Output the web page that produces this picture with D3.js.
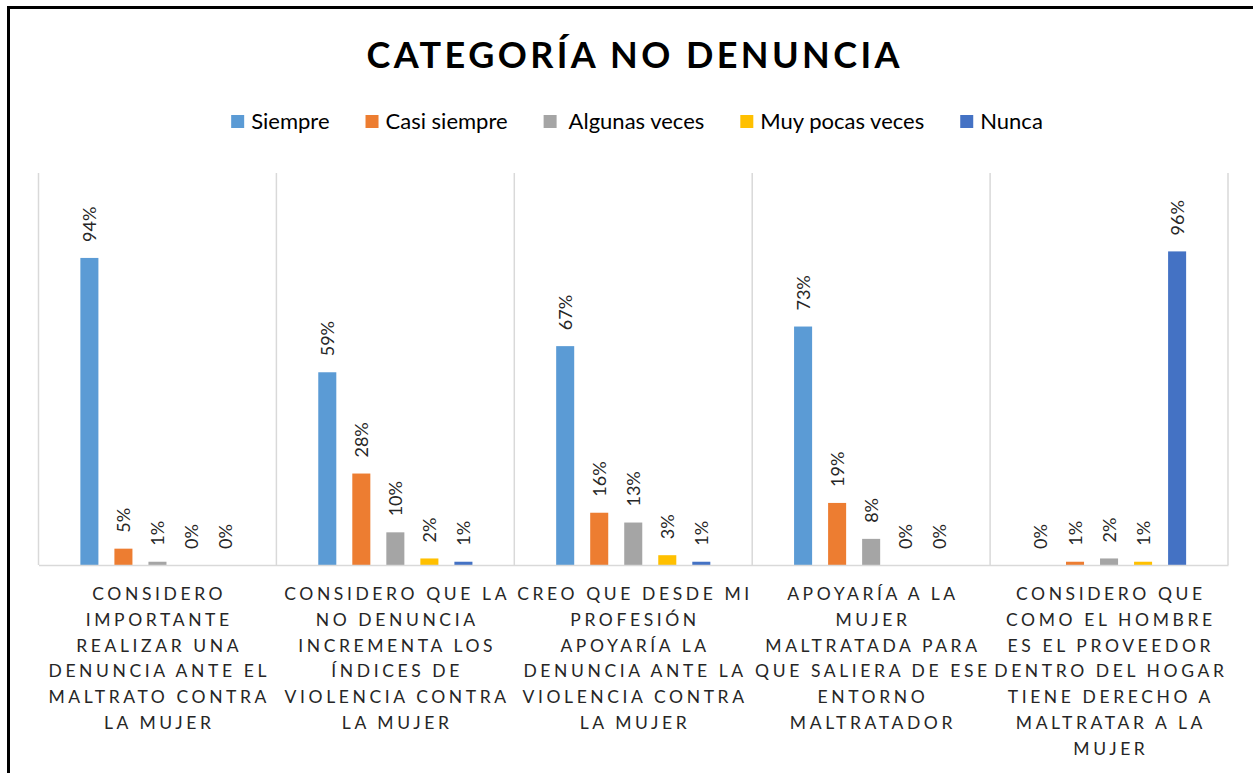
<!DOCTYPE html>
<html>
<head>
<meta charset="utf-8">
<script src="https://cdn.jsdelivr.net/npm/d3@7"></script>
<style>
  body { margin: 0; background: #fff; }
  svg { display: block; font-family: Lato, "Open Sans", sans-serif; }
</style>
</head>
<body>
<div class="canvas"></div>
<script>
// categorías (etiquetas del eje, ya partidas en líneas)
const categories = [
    ['CONSIDERO', 'IMPORTANTE', 'REALIZAR UNA', 'DENUNCIA ANTE EL', 'MALTRATO CONTRA', 'LA MUJER'],
    ['CONSIDERO QUE LA', 'NO DENUNCIA', 'INCREMENTA LOS', 'ÍNDICES DE', 'VIOLENCIA CONTRA', 'LA MUJER'],
    ['CREO QUE DESDE MI', 'PROFESIÓN', 'APOYARÍA LA', 'DENUNCIA ANTE LA', 'VIOLENCIA CONTRA', 'LA MUJER'],
    ['APOYARÍA A LA', 'MUJER', 'MALTRATADA PARA', 'QUE SALIERA DE ESE', 'ENTORNO', 'MALTRATADOR'],
    ['CONSIDERO QUE', 'COMO EL HOMBRE', 'ES EL PROVEEDOR', 'DENTRO DEL HOGAR', 'TIENE DERECHO A', 'MALTRATAR A LA', 'MUJER']
];

const seriesNames = ['Siempre', 'Casi siempre', 'Algunas veces', 'Muy pocas veces', 'Nunca'];

// valores en %
const siempre = [94, 59, 67, 73, 0];
const casiSiempre = [5, 28, 16, 19, 1];
const algunasVeces = [1, 10, 13, 8, 2];
const muyPocasVeces = [0, 2, 3, 0, 1];
const nunca = [0, 1, 1, 0, 96];

const colors = ['#5B9BD5', '#ED7D31', '#A5A5A5', '#FFC000', '#4472C4'];

const seriesValues = [siempre, casiSiempre, algunasVeces, muyPocasVeces, nunca];
const catIds = categories.map((c, i) => i);

const data = catIds.map(i => ({
    cat: i,
    values: seriesNames.map((s, j) => ({ key: s, value: seriesValues[j][i] / 100, color: colors[j] }))
}));

const width = 1253;
const height = 773;

const svg = d3.select('.canvas')
    .append('svg')
    .attr('width', width)
    .attr('height', height);

// marco del gráfico
svg.append('rect')
    .attr('x', 8.5)
    .attr('y', 7.5)
    .attr('width', 1300)
    .attr('height', 800)
    .attr('fill', 'none')
    .attr('stroke', '#000')
    .attr('stroke-width', 3);

const margin = { top: 173, right: 25, bottom: 208, left: 38.5 };
const graphWidth = width - margin.left - margin.right;
const graphHeight = height - margin.top - margin.bottom;

const graph = svg.append('g')
    .attr('transform', `translate(${margin.left}, ${margin.top})`);

const y = d3.scaleLinear()
    .domain([0, 1.2])
    .range([graphHeight, 0]);

const x0 = d3.scaleBand()
    .domain(catIds)
    .range([0, graphWidth])
    .padding(0);

const bw = x0.bandwidth();
const x1 = d3.scaleBand()
    .domain(seriesNames)
    .range([bw * 0.176, bw * 0.824])
    .paddingInner(0.47);

// líneas de división verticales
const bounds = catIds.map(i => x0(i)).concat([x0(catIds[catIds.length - 1]) + bw]);
graph.selectAll('line.grid')
    .data(bounds)
    .enter()
    .append('line')
    .attr('class', 'grid')
    .attr('x1', d => d)
    .attr('x2', d => d)
    .attr('y1', 0)
    .attr('y2', graphHeight)
    .attr('stroke', '#d9d9d9')
    .attr('stroke-width', 1.5);

// barras
const groups = graph.selectAll('g.cat')
    .data(data)
    .enter()
    .append('g')
    .attr('class', 'cat')
    .attr('transform', d => `translate(${x0(d.cat)}, 0)`);

groups.selectAll('rect')
    .data(d => d.values)
    .enter()
    .append('rect')
    .attr('x', d => x1(d.key))
    .attr('width', x1.bandwidth())
    .attr('y', d => y(d.value))
    .attr('height', d => graphHeight - y(d.value))
    .attr('fill', d => d.color);

// etiquetas de datos (rotadas)
groups.selectAll('text.val')
    .data(d => d.values)
    .enter()
    .append('text')
    .attr('class', 'val')
    .attr('transform', d => `translate(${x1(d.key) + x1.bandwidth() / 2}, ${y(d.value) - 16}) rotate(-90)`)
    .attr('dy', '0.36em')
    .attr('text-anchor', 'start')
    .attr('font-size', '18px')
    .attr('fill', '#262626')
    .text(d => Math.round(d.value * 100) + '%');

// eje x
const xAxisGroup = graph.append('g')
    .attr('transform', `translate(0, ${graphHeight})`);
const xAxis = d3.axisBottom(x0)
    .tickSize(0)
    .tickSizeOuter(0)
    .tickFormat('');
xAxisGroup.call(xAxis);
xAxisGroup.select('.domain')
    .attr('stroke', '#d9d9d9')
    .attr('stroke-width', 1.5);

const ls = 3.6;
const labels = graph.selectAll('text.cat')
    .data(catIds)
    .enter()
    .append('text')
    .attr('class', 'cat')
    .attr('text-anchor', 'middle')
    .attr('font-size', '17.5px')
    .attr('letter-spacing', ls + 'px')
    .attr('fill', '#262626')
    .attr('transform', d => `translate(${x0(d) + bw / 2 + ls / 2}, ${graphHeight + 35})`);

labels.selectAll('tspan')
    .data(d => categories[d])
    .enter()
    .append('tspan')
    .attr('x', 0)
    .attr('y', (d, i) => i * 25.8)
    .text(d => d);

// título
svg.append('text')
    .attr('x', 633 + 1.7)
    .attr('y', 68)
    .attr('text-anchor', 'middle')
    .attr('font-size', '36px')
    .attr('font-weight', 'bold')
    .attr('letter-spacing', '3.4px')
    .attr('fill', '#000')
    .text('CATEGORÍA NO DENUNCIA');

// leyenda
const legend = svg.append('g');
const items = legend.selectAll('g')
    .data(seriesNames)
    .enter()
    .append('g');
items.append('rect')
    .attr('width', 13)
    .attr('height', 13)
    .attr('y', 115)
    .attr('fill', (d, i) => colors[i]);
items.append('text')
    .attr('x', (d, i) => i === 2 ? 25 : 20)
    .attr('y', 129)
    .attr('font-size', '22px')
    .attr('fill', '#000')
    .text(d => d);

let pos = 0;
items.each(function(d, i) {
    const w = d3.select(this).select('text').node().getComputedTextLength();
    d3.select(this).attr('transform', `translate(${pos}, 0)`);
    pos += (i === 2 ? 25 : 20) + w + 36;
});
const legendW = pos - 36;
legend.attr('transform', `translate(${637 - legendW / 2}, 0)`);
</script>
</body>
</html>
